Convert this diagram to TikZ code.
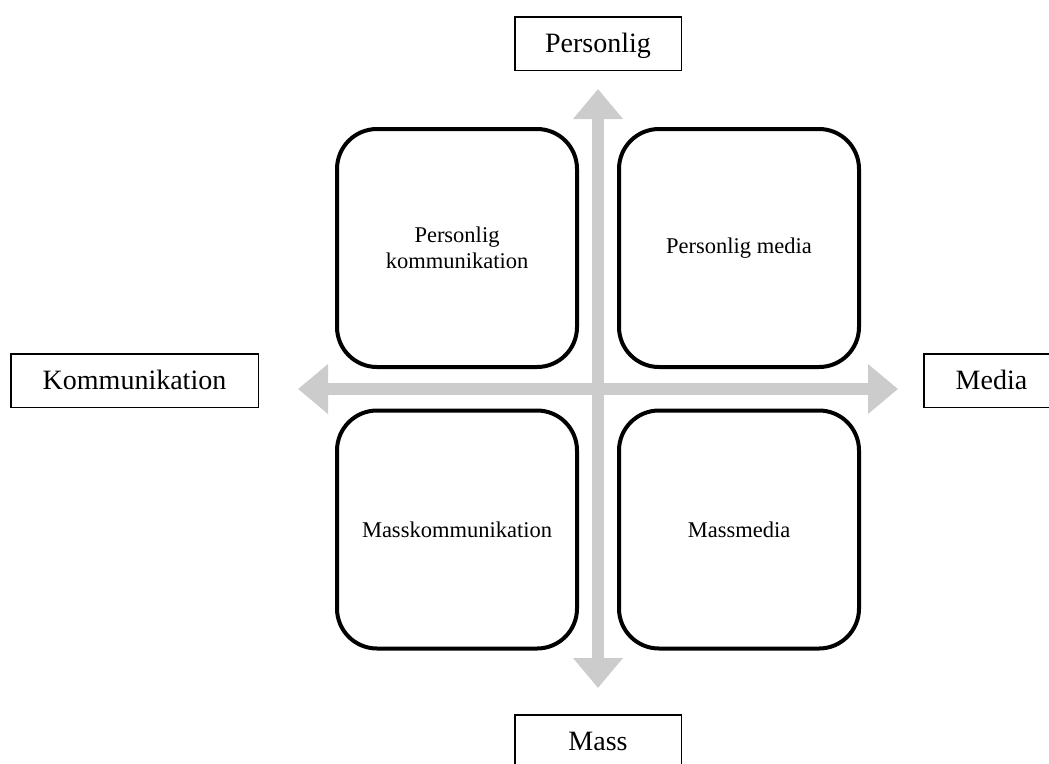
\documentclass[tikz,border=0pt]{standalone}
\usepackage{fontspec}
\setmainfont{Liberation Serif}
\usetikzlibrary{arrows.meta}
\definecolor{axisgray}{RGB}{204,204,204}
\tikzset{
  axislabel/.style={draw=black, line width=1.5pt, fill=white, inner sep=0pt,
    minimum height=53.5pt, text height=20pt, text depth=2pt,
    font=\fontsize{28}{32}\selectfont},
  quadbox/.style={draw=black, line width=4pt, rounded corners=40pt, inner sep=0pt,
    minimum width=240pt, minimum height=238pt, align=center,
    font=\fontsize{22.5}{26}\selectfont},
  axisarrow/.style={draw=axisgray, line width=12pt,
    {Triangle[width=48pt,length=30pt]}-{Triangle[width=48pt,length=30pt]}}
}
\begin{document}
\begin{tikzpicture}[x=1pt,y=-1pt]
\useasboundingbox (0,0) rectangle (1049,763);
\clip (0,0) rectangle (1049,763);
% axis end points
\coordinate (top) at (598,89);
\coordinate (bottom) at (598,688);
\coordinate (left) at (298,389);
\coordinate (right) at (898,389);
\draw[axisarrow] (bottom) -- (top);
\draw[axisarrow] (left) -- (right);
% quadrant boxes
\node[quadbox] (pk) at (457,248) {Personlig\\kommunikation};
\node[quadbox] (pm) at (739,248) {Personlig media};
\node[quadbox] (mk) at (457,529.5) {Masskommunikation};
\node[quadbox] (mm) at (739,529.5) {Massmedia};
% axis labels
\node[axislabel, minimum width=166.5pt] (personlig) at (598,43.5) {Personlig};
\node[axislabel, minimum width=166.5pt] (mass) at (598,741.5) {Mass};
\node[axislabel, minimum width=247.5pt] (komm) at (134.5,380.5) {Kommunikation};
\node[axislabel, minimum width=135.5pt] (media) at (991.5,380.5) {Media};
\end{tikzpicture}
\end{document}
